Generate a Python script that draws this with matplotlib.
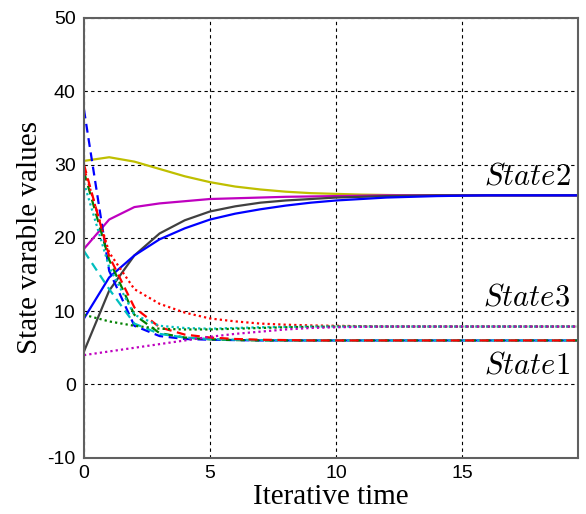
import numpy as np
import matplotlib
matplotlib.use("Agg")
import matplotlib.pyplot as plt

# Iteration steps
t = np.arange(0, 21)

# State2 (solid lines, converge near 25.8)
s2_yellow = [30.5, 31.0, 30.4, 29.4, 28.4, 27.6, 27.0, 26.6, 26.3, 26.1, 26.0,
             25.9, 25.85, 25.8, 25.8, 25.8, 25.8, 25.8, 25.8, 25.8, 25.8]
s2_magenta = [18.5, 22.5, 24.2, 24.7, 25.0, 25.3, 25.4, 25.5, 25.6, 25.65, 25.7,
              25.75, 25.8, 25.8, 25.8, 25.8, 25.8, 25.8, 25.8, 25.8, 25.8]
s2_gray = [4.5, 12.8, 17.6, 20.6, 22.4, 23.6, 24.3, 24.8, 25.1, 25.3, 25.5,
           25.6, 25.7, 25.75, 25.8, 25.8, 25.8, 25.8, 25.8, 25.8, 25.8]
s2_blue = [9.0, 14.6, 17.6, 19.8, 21.3, 22.5, 23.3, 23.9, 24.4, 24.8, 25.1,
           25.3, 25.5, 25.6, 25.7, 25.75, 25.8, 25.8, 25.8, 25.8, 25.8]

# State1 (dashed lines, converge near 6.0)
s1_blue = [37.5, 15.5, 8.0, 6.6, 6.2, 6.1, 6.05, 6.0, 6.0, 6.0, 6.0,
           6.0, 6.0, 6.0, 6.0, 6.0, 6.0, 6.0, 6.0, 6.0, 6.0]
s1_red = [30.0, 17.5, 10.5, 7.8, 6.8, 6.4, 6.2, 6.1, 6.05, 6.0, 6.0,
          6.0, 6.0, 6.0, 6.0, 6.0, 6.0, 6.0, 6.0, 6.0, 6.0]
s1_green = [29.0, 17.0, 9.5, 7.0, 6.4, 6.15, 6.05, 6.0, 6.0, 6.0, 6.0,
            6.0, 6.0, 6.0, 6.0, 6.0, 6.0, 6.0, 6.0, 6.0, 6.0]
s1_cyan = [18.2, 13.0, 8.3, 6.9, 6.4, 6.2, 6.1, 6.05, 6.0, 6.0, 6.0,
           6.0, 6.0, 6.0, 6.0, 6.0, 6.0, 6.0, 6.0, 6.0, 6.0]

# State3 (dotted lines, converge near 7.9)
s3_red = [29.5, 18.0, 13.0, 11.0, 9.8, 9.0, 8.6, 8.3, 8.15, 8.05, 8.0,
          7.95, 7.9, 7.9, 7.9, 7.9, 7.9, 7.9, 7.9, 7.9, 7.9]
s3_cyan = [27.5, 16.0, 9.5, 8.0, 7.7, 7.6, 7.7, 7.8, 7.85, 7.9, 7.9,
           7.9, 7.9, 7.9, 7.9, 7.9, 7.9, 7.9, 7.9, 7.9, 7.9]
s3_green = [9.5, 8.6, 8.0, 7.6, 7.5, 7.5, 7.6, 7.7, 7.8, 7.85, 7.9,
            7.9, 7.9, 7.9, 7.9, 7.9, 7.9, 7.9, 7.9, 7.9, 7.9]
s3_magenta = [4.0, 4.5, 5.0, 5.5, 6.0, 6.5, 6.9, 7.2, 7.5, 7.7, 7.8,
              7.85, 7.9, 7.9, 7.9, 7.9, 7.9, 7.9, 7.9, 7.9, 7.9]

labels = ["State2", "State3", "State1"]
label_y = [28.5, 11.9, 2.6]

x_ticks = [0, 5, 10, 15]
y_ticks = [-10, 0, 10, 20, 30, 40, 50]

Y = "#bfbf00"
M = "#bf00bf"
C = "#00bfbf"
G = "#008000"
K = "#404040"

plt.rcParams["mathtext.fontset"] = "cm"
plt.rcParams["axes.unicode_minus"] = False

fig = plt.figure(figsize=(5.86, 5.14), dpi=100)
ax = fig.add_axes([0.1433, 0.1095, 0.843, 0.8555])

lw = 1.6
ax.plot(t, s2_yellow, color=Y, lw=lw)
ax.plot(t, s2_magenta, color=M, lw=lw)
ax.plot(t, s2_gray, color=K, lw=lw)
ax.plot(t, s2_blue, color="b", lw=lw)

dash = (0, (4, 2.5))
ax.plot(t, s1_blue, color="b", lw=lw, linestyle=dash)
ax.plot(t, s1_green, color=G, lw=lw, linestyle=dash)
ax.plot(t, s1_cyan, color=C, lw=lw, linestyle=dash)
ax.plot(t, s1_red, color="r", lw=lw, linestyle=dash)

dot = (0, (1, 1.4))
ax.plot(t, s3_red, color="r", lw=lw, linestyle=dot)
ax.plot(t, s3_cyan, color=C, lw=lw, linestyle=dot)
ax.plot(t, s3_green, color=G, lw=lw, linestyle=dot)
ax.plot(t, s3_magenta, color=M, lw=lw, linestyle=dot)

ax.set_xlim(0, 19.6)
ax.set_ylim(-10, 50)
ax.set_xticks(x_ticks)
ax.set_yticks(y_ticks)
ax.grid(True, color="black", linestyle=(0, (3, 3)), linewidth=0.8)
ax.set_axisbelow(True)
ax.tick_params(direction="in", length=0, labelsize=14)
ax.tick_params(axis="y", pad=6)
ax.tick_params(axis="x", pad=5)
for lab in ax.get_xticklabels() + ax.get_yticklabels():
    lab.set_family(["Liberation Sans", "DejaVu Sans"])
for sp in ax.spines.values():
    sp.set_color("#606060")
    sp.set_linewidth(1.5)

for txt, yv in zip(labels, label_y):
    ax.text(19.3, yv, "$" + txt + "$", fontsize=22, ha="right", va="center")

ax.set_xlabel("Iterative time", fontsize=21, family=["Liberation Serif"], labelpad=2)
ax.set_ylabel("State varable values", fontsize=21, family=["Liberation Serif"], labelpad=3)

fig.savefig("out.png", dpi=100)
